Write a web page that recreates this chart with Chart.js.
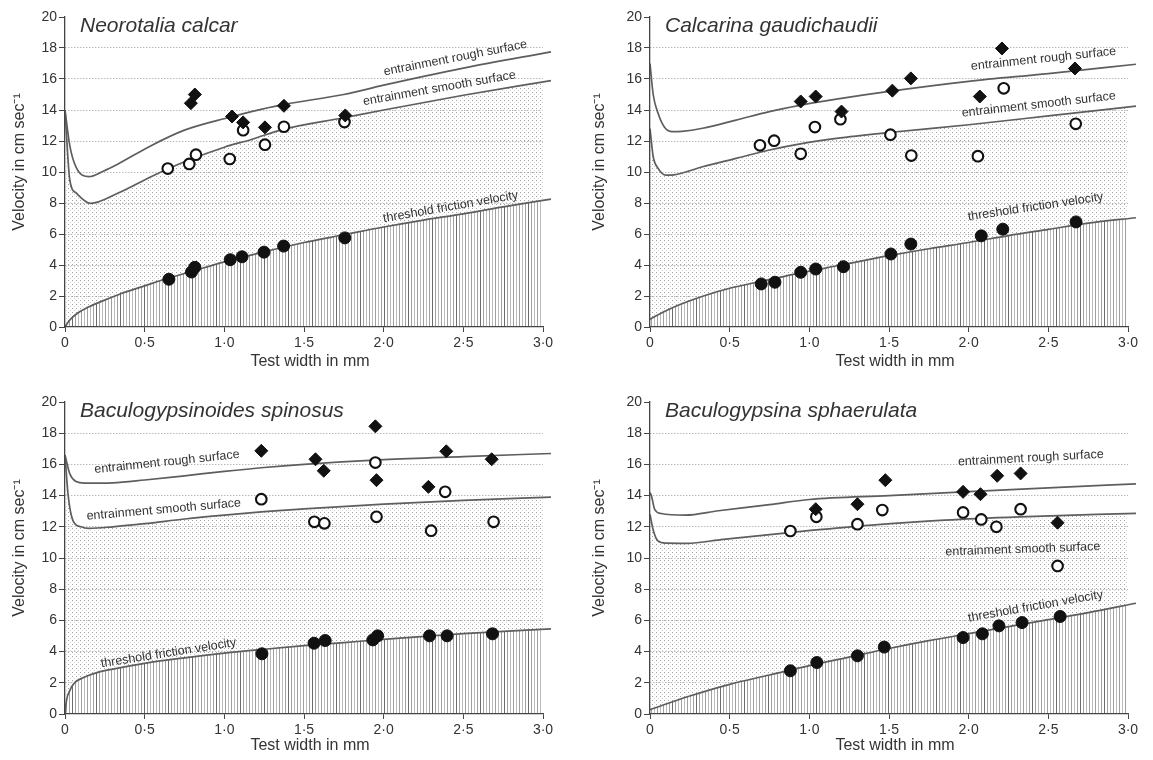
<!DOCTYPE html>
<html>
<head>
<meta charset="utf-8">
<script src="https://cdn.jsdelivr.net/npm/chart.js@4.4.0/dist/chart.umd.min.js"></script>
<style>
  html, body { margin: 0; padding: 0; background: #fff; }
  #wrap { position: relative; width: 1153px; height: 760px; }
  #wrap canvas { position: absolute; }
</style>
</head>
<body>
<div id="wrap">
  <canvas id="c1" width="576" height="380" style="left:0;top:0"></canvas>
  <canvas id="c2" width="577" height="380" style="left:576px;top:0"></canvas>
  <canvas id="c3" width="576" height="380" style="left:0;top:380px"></canvas>
  <canvas id="c4" width="577" height="380" style="left:576px;top:380px"></canvas>
</div>
<script>
// tick labels + titles
const xTickLabels = ['0', '0·5', '1·0', '1·5', '2·0', '2·5', '3·0'];
const yTickLabels = ['0', '2', '4', '6', '8', '10', '12', '14', '16', '18', '20'];
const species = ['Neorotalia calcar', 'Calcarina gaudichaudii', 'Baculogypsinoides spinosus', 'Baculogypsina sphaerulata'];
const xTitle = 'Test width in mm';
const yTitle = 'Velocity in cm sec⁻¹';
const curveNames = ['entrainment rough surface', 'entrainment smooth surface', 'threshold friction velocity'];

// Neorotalia calcar  [test width mm, velocity cm/s]
const neoRough = [[0.79, 14.44], [0.815, 15.0], [1.048, 13.58], [1.118, 13.2], [1.255, 12.88], [1.374, 14.27], [1.759, 13.65]];
const neoSmooth = [[0.645, 10.22], [0.78, 10.52], [0.822, 11.12], [1.034, 10.84], [1.118, 12.7], [1.255, 11.76], [1.374, 12.92], [1.754, 13.22]];
const neoThresh = [[0.652, 3.08], [0.794, 3.55], [0.815, 3.85], [1.037, 4.34], [1.111, 4.53], [1.249, 4.83], [1.372, 5.22], [1.756, 5.75]];
const neoRoughCurve = [[0, 14.0], [0.03, 11.7], [0.07, 10.3], [0.15, 9.7], [0.24, 10.05], [0.33, 10.5], [0.54, 11.7], [0.75, 12.7], [1.04, 13.55], [1.17, 13.9], [1.37, 14.35], [1.75, 15.0], [2.0, 15.6], [2.5, 16.7], [3.05, 17.75]];
const neoSmoothCurve = [[0, 14.0], [0.03, 9.5], [0.07, 8.65], [0.16, 7.98], [0.33, 8.63], [0.54, 9.7], [0.75, 10.66], [1.0, 11.6], [1.17, 12.1], [1.37, 12.75], [1.75, 13.5], [2.0, 14.0], [2.5, 14.95], [3.05, 15.9]];
const neoThreshCurve = [[0, 0], [0.03, 0.45], [0.08, 0.9], [0.15, 1.3], [0.24, 1.7], [0.35, 2.15], [0.5, 2.65], [0.6, 3.0], [0.8, 3.6], [1.0, 4.2], [1.25, 4.85], [1.5, 5.45], [1.75, 5.95], [2.0, 6.45], [2.25, 6.9], [2.5, 7.3], [2.75, 7.75], [3.05, 8.25]];

// Calcarina gaudichaudii
const calRough = [[0.946, 14.55], [1.04, 14.87], [1.202, 13.9], [1.521, 15.25], [1.637, 16.04], [2.07, 14.87], [2.209, 17.97], [2.667, 16.68]];
const calSmooth = [[0.69, 11.72], [0.779, 12.02], [0.946, 11.17], [1.035, 12.9], [1.195, 13.41], [1.509, 12.41], [1.64, 11.06], [2.058, 11.02], [2.22, 15.4], [2.672, 13.11]];
const calThresh = [[0.698, 2.78], [0.784, 2.89], [0.946, 3.53], [1.04, 3.74], [1.214, 3.89], [1.512, 4.71], [1.637, 5.35], [2.079, 5.88], [2.214, 6.31], [2.674, 6.78]];
const calRoughCurve = [[0, 17.0], [0.02, 15.0], [0.05, 13.8], [0.09, 12.9], [0.14, 12.6], [0.2, 12.62], [0.33, 12.82], [0.54, 13.35], [0.75, 13.9], [0.94, 14.3], [1.17, 14.7], [1.5, 15.2], [2.0, 15.85], [2.5, 16.35], [3.05, 16.95]];
const calSmoothCurve = [[0, 12.8], [0.02, 11.0], [0.05, 10.25], [0.1, 9.8], [0.15, 9.82], [0.33, 10.34], [0.54, 10.88], [0.75, 11.42], [0.96, 11.85], [1.17, 12.17], [1.5, 12.55], [2.0, 13.05], [2.5, 13.62], [3.05, 14.25]];
const calThreshCurve = [[0, 0.5], [0.1, 1.05], [0.2, 1.5], [0.35, 2.05], [0.5, 2.5], [0.7, 2.95], [0.9, 3.4], [1.2, 4.0], [1.5, 4.6], [1.75, 5.05], [2.0, 5.45], [2.25, 5.9], [2.5, 6.3], [2.75, 6.7], [3.05, 7.05]];

// Baculogypsinoides spinosus
const bcsRough = [[1.232, 16.87], [1.572, 16.33], [1.624, 15.59], [1.948, 18.44], [1.955, 14.99], [2.281, 14.56], [2.393, 16.84], [2.678, 16.33]];
const bcsSmooth = [[1.232, 13.77], [1.565, 12.32], [1.628, 12.22], [1.948, 16.12], [1.955, 12.64], [2.298, 11.75], [2.386, 14.24], [2.69, 12.32]];
const bcsThresh = [[1.236, 3.86], [1.563, 4.54], [1.633, 4.71], [1.932, 4.75], [1.962, 5.01], [2.288, 5.01], [2.398, 5.01], [2.683, 5.14]];
const bcsRoughCurve = [[0, 16.6], [0.03, 15.4], [0.07, 14.9], [0.12, 14.8], [0.3, 14.82], [0.5, 15.0], [0.75, 15.27], [1.0, 15.55], [1.25, 15.8], [1.5, 16.0], [2.0, 16.3], [2.5, 16.5], [3.05, 16.7]];
const bcsSmoothCurve = [[0, 16.6], [0.02, 14.0], [0.05, 12.4], [0.1, 12.0], [0.15, 11.9], [0.3, 12.0], [0.5, 12.2], [0.75, 12.5], [1.0, 12.75], [1.25, 12.97], [1.5, 13.15], [2.0, 13.45], [2.5, 13.7], [3.05, 13.9]];
const bcsThreshCurve = [[0, 0], [0.01, 0.9], [0.03, 1.5], [0.06, 2.0], [0.12, 2.35], [0.2, 2.65], [0.3, 2.88], [0.5, 3.25], [0.75, 3.6], [1.0, 3.9], [1.25, 4.15], [1.5, 4.38], [1.75, 4.58], [2.0, 4.78], [2.5, 5.15], [3.05, 5.46]];

// Baculogypsina sphaerulata
const bclRough = [[1.04, 13.13], [1.302, 13.45], [1.477, 14.99], [1.965, 14.24], [2.074, 14.09], [2.179, 15.27], [2.326, 15.42], [2.558, 12.26]];
const bclSmooth = [[0.881, 11.73], [1.044, 12.64], [1.302, 12.17], [1.458, 13.07], [1.965, 12.92], [2.079, 12.47], [2.174, 12.0], [2.326, 13.13], [2.558, 9.49]];
const bclThresh = [[0.881, 2.77], [1.047, 3.3], [1.302, 3.73], [1.47, 4.29], [1.965, 4.9], [2.086, 5.14], [2.19, 5.65], [2.335, 5.86], [2.574, 6.25]];
const bclRoughCurve = [[0, 14.2], [0.01, 13.95], [0.03, 13.1], [0.07, 12.85], [0.22, 12.75], [0.43, 13.03], [0.75, 13.42], [1.0, 13.75], [1.5, 14.0], [2.0, 14.25], [2.5, 14.5], [3.05, 14.75]];
const bclSmoothCurve = [[0, 12.8], [0.02, 11.8], [0.05, 11.1], [0.1, 10.95], [0.23, 10.94], [0.46, 11.2], [0.92, 11.68], [1.39, 12.11], [1.85, 12.43], [2.32, 12.64], [3.05, 12.86]];
const bclThreshCurve = [[0, 0.28], [0.25, 1.15], [0.5, 1.9], [0.75, 2.5], [1.0, 3.1], [1.25, 3.65], [1.5, 4.2], [1.75, 4.7], [2.0, 5.15], [2.25, 5.6], [2.5, 6.05], [2.75, 6.5], [3.05, 7.1]];

const FONT = '"Liberation Sans", Arial, Helvetica, sans-serif';
Chart.defaults.font.family = FONT;

function pts(arr) {
  return arr.map(p => ({ x: p[0], y: p[1] }));
}

// small tiles for the two fills
function stippleTile() {
  const c = document.createElement('canvas');
  c.width = 4; c.height = 4;
  const g = c.getContext('2d');
  g.fillStyle = '#a2a2a2';
  g.fillRect(0, 0, 1, 1);
  g.fillStyle = '#d2d2d2';
  g.fillRect(2, 2, 1, 1);
  return c;
}
function hatchTile() {
  const c = document.createElement('canvas');
  c.width = 24; c.height = 4;
  const g = c.getContext('2d');
  g.fillStyle = '#fff';
  g.fillRect(0, 0, 24, 4);
  for (let i = 0; i < 8; i++) {
    g.fillStyle = i === 0 ? '#6c6c6c' : (i % 2 ? '#a0a0a0' : '#bcbcbc');
    g.fillRect(i * 3, 0, 1, 4);
  }
  return c;
}

// species name, curve labels and axis titles
const panelText = {
  id: 'panelText',
  afterDatasetsDraw(chart, args, o) {
    const { ctx, chartArea: a, scales: { x, y } } = chart;
    ctx.save();
    ctx.fillStyle = '#333';
    ctx.textAlign = 'left';
    ctx.textBaseline = 'alphabetic';
    ctx.font = 'italic 21px ' + FONT;
    ctx.fillText(o.title, a.left + 15, a.top + 15);

    ctx.font = '12.5px ' + FONT;
    ctx.textAlign = 'center';
    ctx.textBaseline = 'middle';
    o.labels.forEach(l => {
      ctx.save();
      ctx.translate(x.getPixelForValue(l.x), y.getPixelForValue(l.y));
      ctx.rotate(l.angle * Math.PI / 180);
      ctx.fillText(l.text, 0, 0);
      ctx.restore();
    });

    ctx.font = '16px ' + FONT;
    ctx.fillText(xTitle, (a.left + a.right) / 2 + 6, a.bottom + o.xTitleOff);
    ctx.save();
    ctx.translate(o.yTitleX, (a.top + a.bottom) / 2 - 10);
    ctx.rotate(-Math.PI / 2);
    ctx.fillText(yTitle, 0, 0);
    ctx.restore();
    ctx.restore();
  }
};

function makePanel(p) {
  const canvas = document.getElementById(p.id);
  const c2d = canvas.getContext('2d');
  const hatch = c2d.createPattern(hatchTile(), 'repeat');
  const stipple = c2d.createPattern(stippleTile(), 'repeat');

  const curve = (data, fillColor) => ({
    type: 'line',
    data: pts(data),
    borderColor: '#5e5e5e',
    borderWidth: 1.7,
    pointRadius: 0,
    showLine: true,
    cubicInterpolationMode: 'monotone',
    fill: fillColor ? 'origin' : false,
    backgroundColor: fillColor || 'transparent',
    clip: { left: 2, top: 2, right: 14, bottom: 2 }
  });

  new Chart(canvas, {
    type: 'scatter',
    data: {
      datasets: [
        { data: pts(p.rough), pointStyle: 'rectRot', pointRadius: 6.5, backgroundColor: '#111', borderColor: '#111', borderWidth: 1 },
        { data: pts(p.smooth), pointStyle: 'circle', pointRadius: 5.3, backgroundColor: '#fff', borderColor: '#111', borderWidth: 2.1 },
        { data: pts(p.thresh), pointStyle: 'circle', pointRadius: 6, backgroundColor: '#111', borderColor: '#111', borderWidth: 1 },
        curve(p.threshCurve, hatch),
        curve(p.smoothCurve, stipple),
        curve(p.roughCurve, null)
      ]
    },
    options: {
      responsive: false,
      animation: false,
      layout: { padding: { left: 0, right: p.padRight, top: p.padTop, bottom: 0 } },
      plugins: {
        legend: { display: false },
        tooltip: { enabled: false },
        panelText: { title: p.title, labels: p.labels, yTitleX: p.yTitleX, xTitleOff: p.xTitleOff }
      },
      scales: {
        x: {
          type: 'linear',
          min: 0,
          max: 3,
          afterFit: s => { s.height = p.xHeight; },
          ticks: {
            stepSize: 0.5,
            maxRotation: 0,
            padding: 3,
            color: '#333',
            font: { size: 14 },
            callback: (v, i) => xTickLabels[i]
          },
          grid: { drawOnChartArea: false, tickLength: 5, tickColor: '#444', tickWidth: 1 },
          border: { color: '#444', width: 1.3, z: 1 }
        },
        y: {
          min: 0,
          max: 20,
          afterFit: s => { s.width = p.yWidth; },
          ticks: {
            stepSize: 2,
            padding: 2,
            color: '#333',
            font: { size: 14 },
            callback: (v, i) => yTickLabels[i]
          },
          grid: {
            color: c => (c.tick && c.tick.value > 0 && c.tick.value < 20) ? '#9a9a9a' : 'rgba(0,0,0,0)',
            lineWidth: 1,
            tickLength: 6,
            tickColor: '#444',
            tickWidth: 1
          },
          border: { color: '#444', width: 1.3, dash: [1, 2], z: 1 }
        }
      }
    },
    plugins: [panelText]
  });
}

makePanel({
  id: 'c1', title: species[0], yWidth: 65, padRight: 33, padTop: 17, xHeight: 53, yTitleX: 20, xTitleOff: 35,
  rough: neoRough, smooth: neoSmooth, thresh: neoThresh,
  roughCurve: neoRoughCurve, smoothCurve: neoSmoothCurve, threshCurve: neoThreshCurve,
  labels: [
    { text: curveNames[0], x: 2.45, y: 17.35, angle: -11 },
    { text: curveNames[1], x: 2.35, y: 15.4, angle: -10 },
    { text: curveNames[2], x: 2.42, y: 7.75, angle: -10 }
  ]
});
makePanel({
  id: 'c2', title: species[1], yWidth: 74, padRight: 25, padTop: 17, xHeight: 53, yTitleX: 24, xTitleOff: 35,
  rough: calRough, smooth: calSmooth, thresh: calThresh,
  roughCurve: calRoughCurve, smoothCurve: calSmoothCurve, threshCurve: calThreshCurve,
  labels: [
    { text: curveNames[0], x: 2.47, y: 17.3, angle: -6 },
    { text: curveNames[1], x: 2.44, y: 14.35, angle: -6.5 },
    { text: curveNames[2], x: 2.42, y: 7.75, angle: -8.5 }
  ]
});
makePanel({
  id: 'c3', title: species[2], yWidth: 65, padRight: 33, padTop: 22, xHeight: 46, yTitleX: 20, xTitleOff: 32,
  rough: bcsRough, smooth: bcsSmooth, thresh: bcsThresh,
  roughCurve: bcsRoughCurve, smoothCurve: bcsSmoothCurve, threshCurve: bcsThreshCurve,
  labels: [
    { text: curveNames[0], x: 0.64, y: 16.15, angle: -6 },
    { text: curveNames[1], x: 0.62, y: 13.1, angle: -5 },
    { text: curveNames[2], x: 0.65, y: 3.9, angle: -9 }
  ]
});
makePanel({
  id: 'c4', title: species[3], yWidth: 74, padRight: 25, padTop: 22, xHeight: 46, yTitleX: 24, xTitleOff: 32,
  rough: bclRough, smooth: bclSmooth, thresh: bclThresh,
  roughCurve: bclRoughCurve, smoothCurve: bclSmoothCurve, threshCurve: bclThreshCurve,
  labels: [
    { text: curveNames[0], x: 2.39, y: 16.4, angle: -3 },
    { text: curveNames[1], x: 2.34, y: 10.56, angle: -2 },
    { text: curveNames[2], x: 2.42, y: 6.9, angle: -10 }
  ]
});
</script>
</body>
</html>
